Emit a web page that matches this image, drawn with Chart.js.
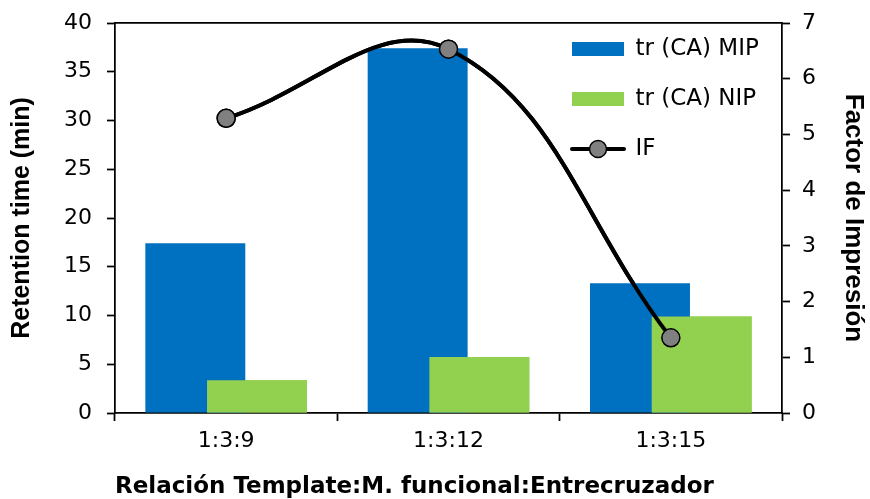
<!DOCTYPE html>
<html>
<head>
<meta charset="utf-8">
<script src="https://cdn.jsdelivr.net/npm/chart.js@4/dist/chart.umd.min.js"></script>
<style>
  html, body { margin: 0; padding: 0; background: #fff; }
  #wrap { width: 870px; height: 499px; }
</style>
</head>
<body>
<div id="wrap"><canvas id="chart" width="870" height="499"></canvas></div>
<script>
const categories = ['1:3:9', '1:3:12', '1:3:15'];
const mipValues = [17.4, 37.4, 13.3];
const nipValues = [3.35, 5.75, 9.9];
const ifValues = [5.29, 6.53, 1.35];
const seriesNames = ['tr (CA) MIP', 'tr (CA) NIP', 'IF'];
const leftTicks = [0, 5, 10, 15, 20, 25, 30, 35, 40];
const rightTicks = [0, 1, 2, 3, 4, 5, 6, 7];

const sans = '"DejaVu Sans", Arial, sans-serif';
const arial = 'Arial, "Liberation Sans", sans-serif';
Chart.defaults.font.family = sans;
Chart.defaults.color = '#000';

// legend marker for the line series: line with a grey circle
const lineMarker = document.createElement('canvas');
lineMarker.width = 58;
lineMarker.height = 22;
(() => {
  const c = lineMarker.getContext('2d');
  c.strokeStyle = '#000';
  c.lineWidth = 4;
  c.lineCap = 'round';
  c.beginPath();
  c.moveTo(3, 11);
  c.lineTo(55, 11);
  c.stroke();
  c.beginPath();
  c.arc(29, 11, 8.5, 0, Math.PI * 2);
  c.fillStyle = '#808080';
  c.fill();
  c.lineWidth = 1.5;
  c.stroke();
})();

// green bars sit over the blue ones, the line over both
const redrawOnTop = {
  id: 'redrawOnTop',
  afterDatasetsDraw(chart) {
    chart.getDatasetMeta(1).controller.draw();
    chart.getDatasetMeta(2).controller.draw();
  }
};

// move the legend to the top right of the plot area
const placeLegend = {
  id: 'placeLegend',
  afterLayout(chart) {
    const lg = chart.legend;
    const area = chart.chartArea;
    const w = lg.width;
    lg.left = area.left + 430;
    lg.right = lg.left + w;
    lg.top = 10.5;
    lg.bottom = area.bottom;
    lg.adjustHitBoxes();
  }
};

const axisColor = '#000';

new Chart(document.getElementById('chart').getContext('2d'), {
  type: 'bar',
  data: {
    labels: categories,
    datasets: [
      {
        label: seriesNames[0],
        data: mipValues,
        backgroundColor: '#0070C0',
        yAxisID: 'y',
        categoryPercentage: 0.555,
        barPercentage: 1.62
      },
      {
        label: seriesNames[1],
        data: nipValues,
        backgroundColor: '#92D050',
        yAxisID: 'y',
        categoryPercentage: 0.555,
        barPercentage: 1.62
      },
      {
        type: 'line',
        label: seriesNames[2],
        data: ifValues,
        yAxisID: 'y1',
        borderColor: '#000',
        borderWidth: 4,
        tension: 0.4,
        capBezierPoints: false,
        pointRadius: 9,
        pointBackgroundColor: '#808080',
        pointBorderColor: '#000',
        pointBorderWidth: 1.5,
        clip: 20
      }
    ]
  },
  options: {
    responsive: false,
    animation: false,
    layout: { padding: { top: 23, left: 0, right: 0, bottom: 0 } },
    plugins: {
      tooltip: { enabled: false },
      legend: {
        position: 'chartArea',
        align: 'start',
        labels: {
          usePointStyle: true,
          pointStyleWidth: 52,
          boxHeight: 14,
          padding: 27,
          color: '#000',
          font: { size: 23, family: sans },
          generateLabels(chart) {
            return chart.data.datasets.map((ds, i) => ({
              text: ds.label,
              fillStyle: i < 2 ? ds.backgroundColor : '#808080',
              strokeStyle: 'transparent',
              lineWidth: 0,
              pointStyle: i < 2 ? 'rect' : lineMarker,
              datasetIndex: i,
              hidden: false
            }));
          }
        }
      }
    },
    scales: {
      x: {
        position: 'bottom',
        offset: true,
        grid: {
          offset: true,
          drawOnChartArea: false,
          drawTicks: true,
          tickLength: 8,
          tickWidth: 1.75,
          tickColor: axisColor
        },
        border: { display: true, color: axisColor, width: 1.75 },
        ticks: { font: { size: 22, family: sans }, padding: 7, color: '#000' },
        title: {
          display: true,
          align: 'start',
          text: 'Relación Template:M. funcional:Entrecruzador',
          font: { size: 23, weight: 'bold', lineHeight: 1, family: sans },
          padding: { top: 0, bottom: 0 },
          color: '#000'
        },
        afterFit(scale) { scale.height = 86; }
      },
      xTop: {
        type: 'category',
        position: 'top',
        labels: categories,
        grid: { display: false, drawTicks: false },
        ticks: { display: false },
        border: { display: true, color: axisColor, width: 1.75 },
        afterFit(scale) { scale.height = 0; }
      },
      y: {
        position: 'left',
        min: 0,
        max: 40,
        afterBuildTicks(scale) { scale.ticks = leftTicks.map(v => ({ value: v })); },
        grid: {
          drawOnChartArea: false,
          drawTicks: true,
          tickLength: 8,
          tickWidth: 1.75,
          tickColor: axisColor
        },
        border: { display: true, color: axisColor, width: 1.75 },
        ticks: { font: { size: 22, family: sans }, padding: 15, color: '#000' },
        title: {
          display: true,
          text: 'Retention time (min)',
          font: { size: 25, weight: 'bold', lineHeight: 1, family: arial },
          padding: { top: 10, bottom: 0 },
          color: '#000'
        },
        afterFit(scale) {
          scale.width = 115;
          scale.paddingTop = 0;
          scale.paddingBottom = 0;
        }
      },
      y1: {
        position: 'right',
        min: 0,
        max: 7,
        afterBuildTicks(scale) { scale.ticks = rightTicks.map(v => ({ value: v })); },
        grid: {
          drawOnChartArea: false,
          drawTicks: true,
          tickLength: 8,
          tickWidth: 1.75,
          tickColor: axisColor
        },
        border: { display: true, color: axisColor, width: 1.75 },
        ticks: { font: { size: 22, family: sans }, padding: 12, color: '#000' },
        title: {
          display: true,
          text: 'Factor de Impresión',
          font: { size: 26, weight: 'bold', lineHeight: 1, family: arial },
          padding: { top: 4, bottom: 0 },
          color: '#000'
        },
        afterFit(scale) {
          scale.width = 88;
          scale.paddingTop = 0;
          scale.paddingBottom = 0;
        }
      }
    }
  },
  plugins: [redrawOnTop, placeLegend]
});
</script>
</body>
</html>
